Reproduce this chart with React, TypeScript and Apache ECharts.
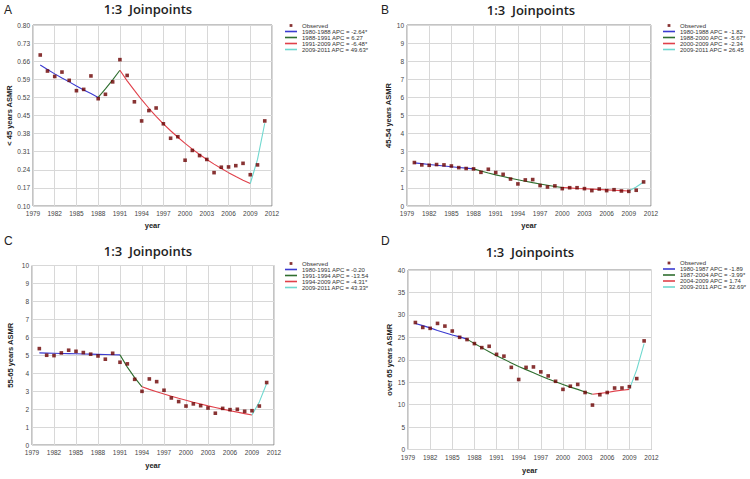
import { useEffect, useRef } from "react";
import * as echarts from "echarts";

// ---------- data ----------
const years = [1980, 1981, 1982, 1983, 1984, 1985, 1986, 1987, 1988, 1989, 1990, 1991, 1992, 1993, 1994, 1995, 1996, 1997, 1998, 1999, 2000, 2001, 2002, 2003, 2004, 2005, 2006, 2007, 2008, 2009, 2010, 2011];

const observedA = [0.684, 0.622, 0.601, 0.618, 0.586, 0.546, 0.551, 0.603, 0.515, 0.532, 0.580, 0.666, 0.605, 0.503, 0.429, 0.469, 0.479, 0.418, 0.362, 0.368, 0.277, 0.315, 0.295, 0.280, 0.229, 0.250, 0.251, 0.256, 0.265, 0.221, 0.259, 0.429];
const fittedA = [0.645, 0.628, 0.611, 0.595, 0.580, 0.564, 0.549, 0.535, 0.520, 0.553, 0.588, 0.625, 0.584, 0.547, 0.511, 0.478, 0.447, 0.418, 0.391, 0.366, 0.342, 0.320, 0.299, 0.280, 0.262, 0.245, 0.229, 0.214, 0.200, 0.187, 0.280, 0.420];
const breaksA = [1980, 1988, 1991, 2009, 2011];
const segmentsA = ["1980-1988 APC = -2.64*", "1988-1991 APC = 6.27", "1991-2009 APC = -6.48*", "2009-2011 APC = 49.63*"];

const observedB = [2.40, 2.27, 2.25, 2.29, 2.27, 2.21, 2.12, 2.07, 2.05, 1.86, 2.03, 1.85, 1.75, 1.49, 1.22, 1.44, 1.46, 1.13, 1.05, 1.11, 0.96, 1.01, 1.01, 0.96, 0.85, 0.94, 0.85, 0.90, 0.83, 0.81, 0.87, 1.33];
const fittedB = [2.38, 2.34, 2.29, 2.25, 2.21, 2.17, 2.13, 2.09, 2.05, 1.93, 1.82, 1.72, 1.63, 1.53, 1.45, 1.37, 1.29, 1.22, 1.15, 1.08, 1.02, 1.00, 0.97, 0.95, 0.93, 0.91, 0.89, 0.87, 0.85, 0.83, 1.05, 1.33];
const breaksB = [1980, 1988, 2000, 2009, 2011];
const segmentsB = ["1980-1988 APC = -1.82", "1988-2000 APC = -5.67*", "2000-2009 APC = -2.34", "2009-2011 APC = 26.45"];

const observedC = [5.37, 5.00, 4.98, 5.13, 5.28, 5.22, 5.15, 5.06, 4.96, 4.78, 5.11, 4.61, 4.52, 3.66, 2.99, 3.68, 3.53, 3.05, 2.62, 2.42, 2.17, 2.29, 2.19, 2.06, 1.77, 2.04, 1.97, 1.99, 1.88, 1.91, 2.17, 3.48];
const fittedC = [5.13, 5.12, 5.11, 5.10, 5.09, 5.08, 5.07, 5.06, 5.05, 5.04, 5.03, 5.02, 4.34, 3.75, 3.24, 3.10, 2.97, 2.84, 2.72, 2.60, 2.49, 2.38, 2.28, 2.18, 2.09, 2.00, 1.91, 1.83, 1.75, 1.67, 2.40, 3.43];
const breaksC = [1980, 1991, 1994, 2009, 2011];
const segmentsC = ["1980-1991 APC = -0.20", "1991-1994 APC = -13.54", "1994-2009 APC = -4.31*", "2009-2011 APC = 43.33*"];

const observedD = [28.3, 27.2, 27.0, 28.1, 27.5, 26.4, 25.0, 24.5, 23.6, 22.7, 23.0, 21.2, 20.8, 18.3, 15.6, 18.3, 18.4, 17.3, 16.4, 15.2, 13.4, 14.1, 14.5, 12.7, 9.9, 12.2, 12.7, 13.7, 13.7, 14.0, 15.8, 24.2];
const fittedD = [28.1, 27.6, 27.1, 26.5, 26.0, 25.5, 25.1, 24.6, 23.6, 22.7, 21.8, 20.9, 20.1, 19.3, 18.5, 17.8, 17.1, 16.4, 15.7, 15.1, 14.5, 13.9, 13.4, 12.8, 12.3, 12.5, 12.7, 13.0, 13.2, 13.4, 17.8, 23.6];
const breaksD = [1980, 1987, 2004, 2009, 2011];
const segmentsD = ["1980-1987 APC = -1.89", "1987-2004 APC = -3.99*", "2004-2009 APC = 1.74", "2009-2011 APC = 32.69*"];

// axis ranges: [min, max, step]
const xRange = [1979, 2012, 3];
const yRangeA = [0.1, 0.8, 0.07];
const yRangeB = [0, 10, 1];
const yRangeC = [0, 10, 1];
const yRangeD = [0, 40, 5];

const yNames = ["< 45 years ASMR", "45-54 years ASMR", "55-65 years ASMR", "over 65 years ASMR"];
const panelLetters = ["A", "B", "C", "D"];
const titleText = "1:3  Joinpoints";

// ---------- styling / layout ----------
const segColors = ["#3b3bd0", "#2f6e2f", "#e0404a", "#6fd8cf"];
const FONT = "'Liberation Sans', Arial, sans-serif";

const grids = [
  { left: 33, top: 25, width: 239, height: 181 },
  { left: 407, top: 25, width: 244, height: 181 },
  { left: 32, top: 265.5, width: 242, height: 179.5 },
  { left: 408, top: 270, width: 243.5, height: 179.5 },
];
const legendPos = [
  { left: 285, top: 22.5 },
  { left: 663, top: 22.5 },
  { left: 285, top: 260.5 },
  { left: 663, top: 260 },
];
const yNameGap = [19, 13, 18, 14];
const xNameGap = [15, 15, 16, 17];
const titlePos = [
  [148, 9],
  [531, 10],
  [148, 251],
  [530, 252],
];
const letterPos = [
  [4, 4],
  [381, 4],
  [4, 235],
  [381, 235],
];

const obsIcon = "path://M0,0M12,4M4.6,0.6h2.8v2.8h-2.8z";
const lineIcon = "path://M0,0M12,4M0,1.2h12v1.6h-12z";

const panels = [
  { obs: observedA, fit: fittedA, breaks: breaksA, segs: segmentsA, yr: yRangeA, dec: 2 },
  { obs: observedB, fit: fittedB, breaks: breaksB, segs: segmentsB, yr: yRangeB, dec: 0 },
  { obs: observedC, fit: fittedC, breaks: breaksC, segs: segmentsC, yr: yRangeC, dec: 0 },
  { obs: observedD, fit: fittedD, breaks: breaksD, segs: segmentsD, yr: yRangeD, dec: 0 },
];

function buildOption() {
  const [x0, x1, xs] = xRange;
  const series: any[] = [];
  const xAxis: any[] = [];
  const yAxis: any[] = [];
  const legend: any[] = [];
  const graphic: any[] = [];

  panels.forEach((p, idx) => {
    const [y0, y1, ys] = p.yr;
    xAxis.push({
      type: "value",
      gridIndex: idx,
      min: 0,
      max: x1 - x0,
      interval: xs,
      name: "year",
      nameLocation: "middle",
      nameGap: xNameGap[idx],
      nameTextStyle: { fontFamily: FONT, fontSize: 7.5, fontWeight: "bold", color: "#222" },
      axisLine: { show: false },
      axisTick: { show: false },
      axisLabel: {
        fontFamily: FONT,
        fontSize: 6.5,
        color: "#444",
        margin: 4,
        formatter: (v: number) => String(Math.round(v + x0)),
      },
      splitLine: { show: true, lineStyle: { color: "#d8d8d8", width: 1 } },
    });
    yAxis.push({
      type: "value",
      gridIndex: idx,
      min: 0,
      max: +(y1 - y0).toFixed(4),
      interval: ys,
      name: yNames[idx],
      nameLocation: "middle",
      nameGap: yNameGap[idx],
      nameTextStyle: { fontFamily: FONT, fontSize: 7.5, fontWeight: "bold", color: "#222" },
      axisLine: { show: false },
      axisTick: { show: false },
      axisLabel: {
        fontFamily: FONT,
        fontSize: 6.5,
        color: "#444",
        margin: 3,
        formatter: (v: number) => (v + y0).toFixed(p.dec),
      },
      splitLine: { show: true, lineStyle: { color: "#d8d8d8", width: 1 } },
    });

    series.push({
      type: "scatter",
      name: "Observed",
      xAxisIndex: idx,
      yAxisIndex: idx,
      symbol: "rect",
      symbolSize: 3.6,
      itemStyle: { color: "#6a0000", borderWidth: 0 },
      z: 4,
      data: years.map((yr, i) => [yr - x0, p.obs[i] - y0]),
    });
    p.segs.forEach((name, k) => {
      const a = p.breaks[k];
      const b = p.breaks[k + 1];
      const data: number[][] = [];
      years.forEach((yr, i) => {
        if (yr >= a && yr <= b) data.push([yr - x0, p.fit[i] - y0]);
      });
      series.push({
        type: "line",
        name,
        xAxisIndex: idx,
        yAxisIndex: idx,
        symbol: "none",
        z: 3,
        lineStyle: { color: segColors[k], width: 1.1 },
        itemStyle: { color: segColors[k], borderWidth: 0 },
        data,
      });
    });

    legend.push({
      orient: "vertical",
      left: legendPos[idx].left,
      top: legendPos[idx].top,
      padding: 0,
      itemGap: 0,
      itemWidth: 12,
      itemHeight: 4,
      selectedMode: false,
      textStyle: { fontFamily: FONT, fontSize: 6, lineHeight: 6, color: "#333" },
      data: [{ name: "Observed", icon: obsIcon }, ...p.segs.map((n) => ({ name: n, icon: lineIcon }))],
    });

    graphic.push({
      type: "text",
      x: titlePos[idx][0],
      y: titlePos[idx][1],
      style: {
        text: titleText,
        fontFamily: "'Open Sans', sans-serif",
        fontSize: 13,
        fontWeight: 600,
        fill: "#222",
        align: "center",
        verticalAlign: "middle",
      },
    });
    graphic.push({
      type: "text",
      x: letterPos[idx][0],
      y: letterPos[idx][1],
      style: {
        text: panelLetters[idx],
        fontFamily: FONT,
        fontSize: 12,
        fill: "#222",
        align: "left",
        verticalAlign: "top",
      },
    });
  });

  return {
    animation: false,
    backgroundColor: "#ffffff",
    grid: grids.map((g) => ({ ...g, show: true, borderColor: "#888", borderWidth: 1, containLabel: false })),
    xAxis,
    yAxis,
    legend,
    series,
    graphic,
  };
}

export default function App() {
  const ref = useRef<HTMLDivElement>(null);
  useEffect(() => {
    document.body.style.margin = "0";
    if (!ref.current) return;
    const chart = echarts.init(ref.current, null, { renderer: "svg" });
    chart.setOption(buildOption() as any);
    return () => chart.dispose();
  }, []);
  return <div ref={ref} style={{ width: 750, height: 479 }} />;
}
